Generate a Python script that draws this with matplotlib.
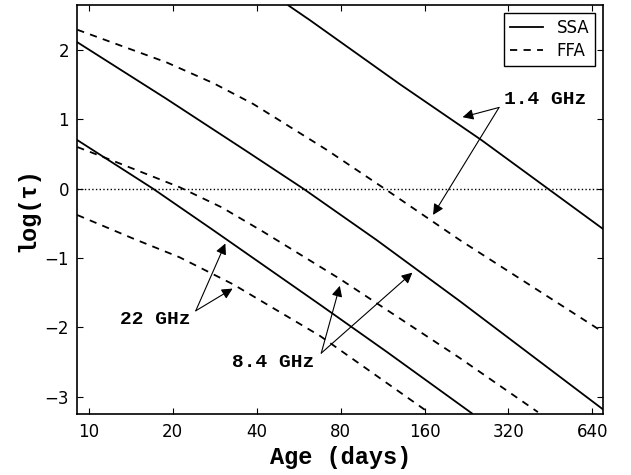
import matplotlib
matplotlib.use("Agg")
import matplotlib.pyplot as plt
from matplotlib.ticker import FixedLocator, FixedFormatter, NullLocator

# Data: age in days, log(tau)
ssa_14_age = [52, 62, 130, 256, 443, 698]
ssa_14_tau = [2.64, 2.43, 1.51, 0.70, 0.0, -0.58]

ssa_84_age = [9.1, 18.9, 36.8, 58.8, 107.7, 214, 698]
ssa_84_tau = [2.11, 1.30, 0.54, 0.0, -0.74, -1.62, -3.18]

ssa_22_age = [9.1, 17.0, 28.0, 67.4, 117, 237]
ssa_22_tau = [0.70, 0.0, -0.60, -1.67, -2.35, -3.24]

ffa_14_age = [9.1, 19.0, 28.0, 38.9, 71.3, 117, 214, 676]
ffa_14_tau = [2.29, 1.82, 1.52, 1.22, 0.56, -0.02, -0.74, -2.03]

ffa_84_age = [9.1, 12.25, 21.2, 30.0, 42.2, 79.5, 214, 408]
ffa_84_tau = [0.60, 0.40, 0.02, -0.27, -0.62, -1.30, -2.44, -3.22]

ffa_22_age = [9.1, 14.45, 21.2, 33.0, 67.4, 164.8]
ffa_22_tau = [-0.38, -0.72, -0.99, -1.38, -2.12, -3.22]

xticks = [10, 20, 40, 80, 160, 320, 640]
xtick_labels = ["10", "20", "40", "80", "160", "320", "640"]
yticks = [-3, -2, -1, 0, 1, 2]

# annotation labels: (text, text position, arrow start, arrow tips)
labels = [
    ("1.4 GHz", (434.7, 1.29), (296, 1.17), [(219, 1.03), (171.7, -0.378)]),
    ("22 GHz", (17.3, -1.89), (24.2, -1.76), [(30.9, -0.79), (32.8, -1.44)]),
    ("8.4 GHz", (45.9, -2.50), (68.2, -2.37), [(79.5, -1.40), (144.7, -1.21)]),
]

mono = ["Liberation Mono", "DejaVu Sans Mono"]
dash = (0, (4, 3.5))

fig = plt.figure(figsize=(6.31, 4.75), dpi=100)
ax = fig.add_axes([0.1225, 0.128, 0.8336, 0.862])

ax.plot(ssa_14_age, ssa_14_tau, color="k", lw=1.3, label="SSA")
ax.plot(ssa_84_age, ssa_84_tau, color="k", lw=1.3)
ax.plot(ssa_22_age, ssa_22_tau, color="k", lw=1.3)
ax.plot(ffa_14_age, ffa_14_tau, color="k", lw=1.3, linestyle=dash, label="FFA")
ax.plot(ffa_84_age, ffa_84_tau, color="k", lw=1.3, linestyle=dash)
ax.plot(ffa_22_age, ffa_22_tau, color="k", lw=1.3, linestyle=dash)

ax.axhline(0, color="k", lw=1.0, linestyle=":")

for txt, tpos, start, tips in labels:
    ax.text(tpos[0], tpos[1], txt, ha="center", va="center",
            family=mono, weight="bold", fontsize=14)
    for tip in tips:
        ax.annotate("", xy=tip, xytext=start,
                    arrowprops=dict(arrowstyle="-|>", color="k", lw=0.8,
                                    mutation_scale=16, shrinkA=0, shrinkB=0))

ax.set_xscale("log")
ax.set_xlim(9.1, 700)
ax.set_ylim(-3.25, 2.65)
ax.xaxis.set_major_locator(FixedLocator(xticks))
ax.xaxis.set_major_formatter(FixedFormatter(xtick_labels))
ax.xaxis.set_minor_locator(NullLocator())
ax.set_yticks(yticks)
ax.tick_params(direction="in", top=True, right=True, length=4, labelsize=12, pad=6)
for s in ax.spines.values():
    s.set_linewidth(1.2)

ax.set_xlabel("Age (days)", family=mono, weight="bold", fontsize=17)
ax.set_ylabel("log(τ)", family=mono, weight="bold", fontsize=17)

leg = ax.legend(loc="upper right", fancybox=False, framealpha=1, fontsize=12,
                handlelength=2.0, borderaxespad=0.5, labelspacing=0.3,
                borderpad=0.35)
leg.get_frame().set_edgecolor("k")

fig.savefig("out.png", dpi=100)
